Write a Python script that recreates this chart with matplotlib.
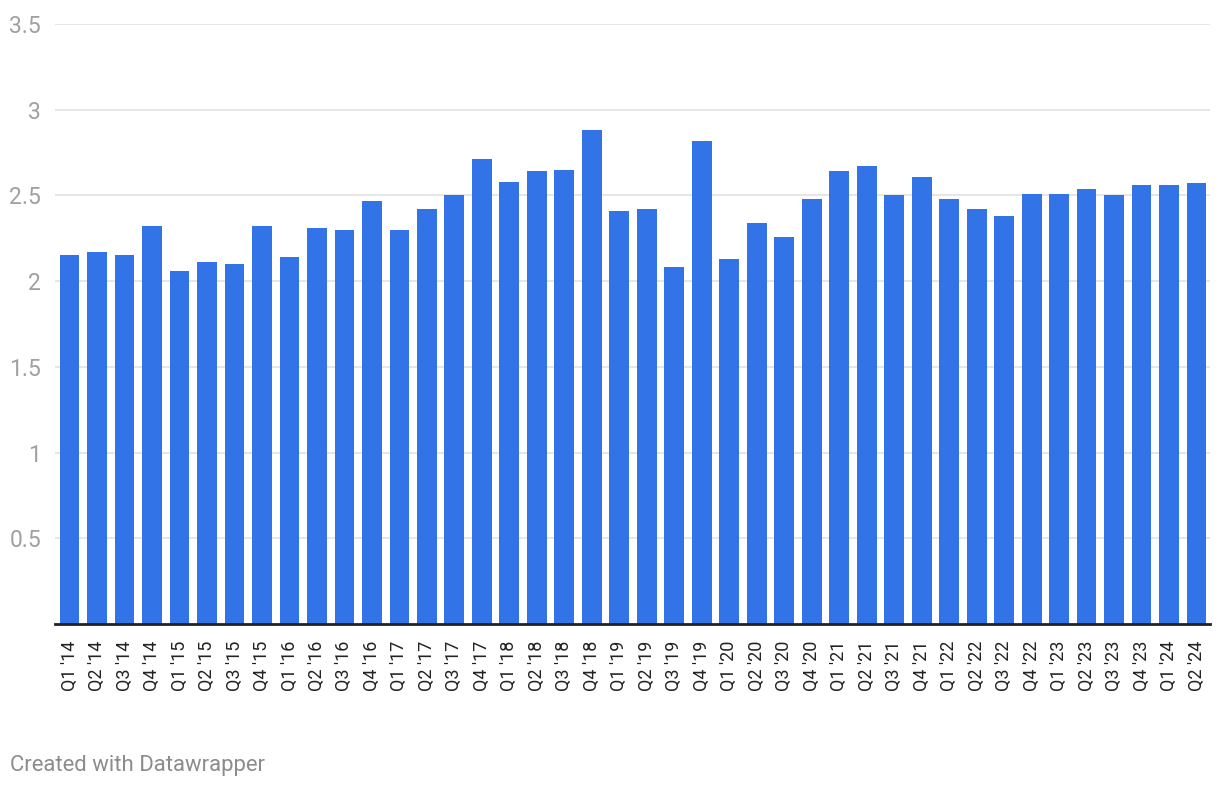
import matplotlib as mpl
mpl.use("Agg")
import matplotlib.pyplot as plt

QUARTERS = ["Q1", "Q2", "Q3", "Q4"]
YEARS = ["14", "15", "16", "17", "18", "19", "20", "21", "22", "23", "24"]
LABELS = [f"{q} '{y}" for y in YEARS for q in QUARTERS][:42]
VALUES = [
    2.15, 2.17, 2.15, 2.32,
    2.06, 2.11, 2.10, 2.32,
    2.14, 2.31, 2.30, 2.47,
    2.30, 2.42, 2.50, 2.71,
    2.58, 2.64, 2.65, 2.88,
    2.41, 2.42, 2.08, 2.82,
    2.13, 2.34, 2.26, 2.48,
    2.64, 2.67, 2.50, 2.61,
    2.48, 2.42, 2.38, 2.51,
    2.51, 2.54, 2.50, 2.56,
    2.56, 2.57,
]
YTICKS = [0.5, 1, 1.5, 2, 2.5, 3, 3.5]
YTICK_LABELS = ["0.5", "1", "1.5", "2", "2.5", "3", "3.5"]

mpl.rcParams.update({"font.family": ["Roboto", "DejaVu Sans"]})

fig = plt.figure(figsize=(12.2, 7.88), dpi=100)
ax = fig.add_axes([55 / 1220, 164 / 788, 1155 / 1220, 600 / 788])

x = list(range(len(VALUES)))
ax.bar(x, VALUES, width=0.72, color="#3373E8", zorder=3)

ax.set_xlim(-0.53, len(VALUES) - 0.51)
ax.set_ylim(0, 3.5)
ax.set_yticks(YTICKS)
ax.set_yticklabels(YTICK_LABELS)
ax.set_xticks(x)
ax.set_xticklabels(LABELS, rotation=90, va="top", ha="center")

ax.grid(axis="y", color="#e2e2e2", lw=1.2, zorder=0)
for s in ["top", "right", "left"]:
    ax.spines[s].set_visible(False)
ax.spines["bottom"].set_color("#222222")
ax.spines["bottom"].set_linewidth(2)
ax.spines["bottom"].set_zorder(4)

ax.tick_params(axis="y", length=0, pad=10, labelsize=16.5, labelcolor="#a0a0a0")
ax.tick_params(axis="x", length=0, pad=12, labelsize=13, labelcolor="#222222")

fig.text(10 / 1220, 1 - 765 / 788, "Created with Datawrapper", fontsize=15.9,
         color="#8c8c8c", ha="left", va="center")

fig.savefig("out.png", dpi=100)
